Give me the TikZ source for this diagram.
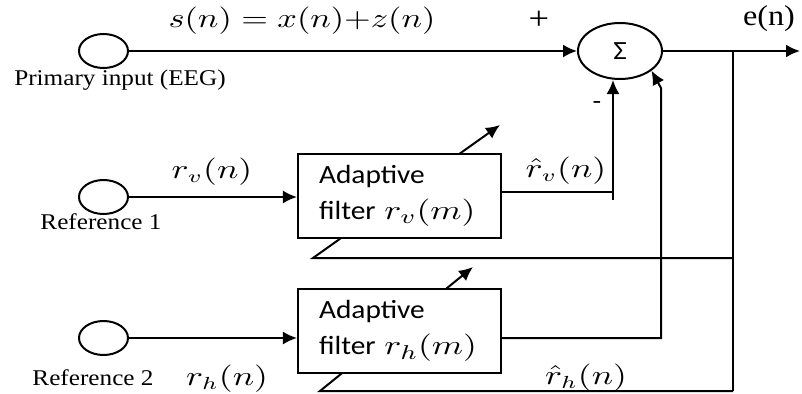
\documentclass[tikz,border=0pt]{standalone}
\usepackage[no-math]{fontspec}
\usepackage{amsmath}
\usepackage{graphicx}
\setmainfont{Liberation Serif}[FakeStretch=1.12]
\newfontfamily\calibri{Carlito}[FakeStretch=1.12]
\newcommand{\wide}[1]{\scalebox{1.3}[1]{#1}}
\usetikzlibrary{shapes,arrows.meta,positioning,backgrounds}

\begin{document}
\begin{tikzpicture}[
    x=0.4pt, y=-0.4pt,
    port/.style={ellipse, draw, thick, minimum width=19.6pt, minimum height=13.6pt, inner sep=0pt},
    sumnode/.style={ellipse, draw, thick, fill=white, minimum width=33.6pt, minimum height=22.4pt, inner sep=0pt, font=\calibri\fontsize{10.5}{12}\selectfont},
    filterbox/.style={rectangle, draw, thick, fill=white, text width=64.4pt, inner xsep=8.4pt, minimum height=33.6pt, align=left, font=\calibri\fontsize{10.5}{14.4}\selectfont},
    lbl/.style={font=\fontsize{9}{11}\selectfont},
    mlbl/.style={font=\fontsize{10.5}{13}\selectfont},
    arrow/.style={-{Latex[length=5.6pt,width=5.2pt]}, thick}
]
\useasboundingbox (0,0) rectangle (802,394);

% Inputs
\node [port] (primary) at (103.5,51) {};
\node [port] (ref1) at (103.5,197) {};
\node [port] (ref2) at (103.5,338) {};
\node [lbl] (primary_lbl) at (120,80) {Primary input (EEG)};
\node [lbl] (ref1_lbl) at (101,222) {Reference 1};
\node [lbl] (ref2_lbl) at (93,378) {Reference 2};

% Summing junction
\node [sumnode] (sum) at (620,51) {Σ};

% Adaptive filters
\node [filterbox] (filt1) at (399.5,196) {Adaptive\\filter {\fontsize{11}{12}\selectfont\wide{$r_v(m)$}}};
\node [filterbox] (filt2) at (399.5,331) {Adaptive\\filter {\fontsize{11}{12}\selectfont\wide{$r_h(m)$}}};

% Signal labels
\node [mlbl] (s_lbl) at (302,21) {\scalebox{1.25}[1]{$s(n) = x(n){+}z(n)$}};
\node [font=\fontsize{13}{15}\selectfont] (plus) at (539,20) {+};
\node [font=\calibri\fontsize{10}{12}\selectfont] (minus) at (597,106) {-};
\node [font=\fontsize{11.5}{13}\selectfont] (e_lbl) at (769,19) {e(n)};
\node [mlbl] (rv_lbl) at (212,172) {\wide{$r_v(n)$}};
\node [mlbl] (rvhat_lbl) at (566,171) {\wide{$\hat{r}_v(n)$}};
\node [mlbl] (rh_lbl) at (227,379) {\wide{$r_h(n)$}};
\node [mlbl] (rhhat_lbl) at (586,378) {\wide{$\hat{r}_h(n)$}};

% Corner points
\coordinate (b1) at (613,192);
\coordinate (tap1) at (613,200);
\coordinate (b2) at (661,338);
\coordinate (k2) at (661,88);
\coordinate (tap) at (733,51);
\coordinate (out) at (800,51);
\coordinate (fb1) at (733,258);
\coordinate (fb2) at (733,391);
\coordinate (s1) at (313,258);
\coordinate (s2) at (320,391);
\coordinate (t1) at (500,125);
\coordinate (t2) at (473,267);

% Arrows
\draw [arrow] (primary.east) -- (sum.west);
\draw [arrow] (ref1.east) -- (ref1.east -| filt1.west);
\draw [arrow] (ref2.east) -- (ref2.east -| filt2.west);
\draw [thick] (filt1.east |- b1) -- (b1) -- (tap1);
\draw [arrow] (tap1) -- (sum.south -| tap1);
\draw [arrow] (filt2.east |- b2) -- (b2) -- (k2) -- (sum.-32);
\draw [arrow] (sum.east) -- (out);

% Error feedback
\draw [thick] (tap) -- (fb2);
\begin{pgfonlayer}{background}
\draw [arrow] (fb1) -- (s1) -- (t1);
\draw [arrow] (fb2) -- (s2) -- (t2);
\end{pgfonlayer}

\end{tikzpicture}
\end{document}
